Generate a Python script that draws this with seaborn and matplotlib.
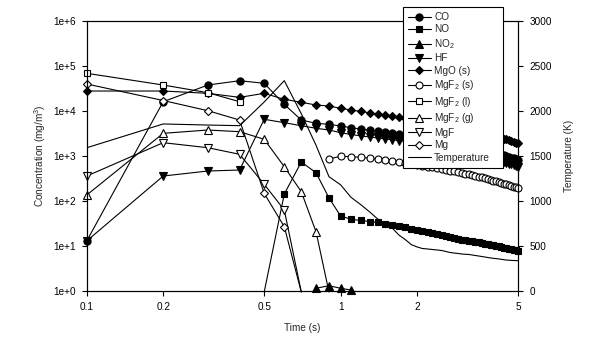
import numpy as np
import pandas as pd
import matplotlib
matplotlib.use("Agg")
import matplotlib.pyplot as plt
import seaborn as sns
from matplotlib.lines import Line2D
from matplotlib.ticker import NullLocator

nan = np.nan

times = [0.1, 0.2, 0.3, 0.4, 0.5, 0.6, 0.7, 0.8, 0.9, 1.0,
         1.1, 1.2, 1.3, 1.4, 1.5, 1.6, 1.7, 1.8, 1.9, 2.0,
         2.1, 2.2, 2.3, 2.4, 2.5, 2.6, 2.7, 2.8, 2.9, 3.0,
         3.1, 3.2, 3.3, 3.4, 3.5, 3.6, 3.7, 3.8, 3.9, 4.0,
         4.1, 4.2, 4.3, 4.4, 4.5, 4.6, 4.7, 4.8, 4.9, 5.0]

co = [13, 16100, 37800, 47100, 41300, 14000, 6310, 5330, 5060, 4640,
      4250, 3980, 3720, 3540, 3360, 3210, 3070, 2930, 2780, 2640,
      2540, 2440, 2350, 2260, 2170, 2090, 2010, 1930, 1860, 1790,
      1720, 1650, 1590, 1530, 1470, 1410, 1360, 1310, 1260, 1210,
      1160, 1120, 1075, 1035, 995, 955, 920, 885, 850, 815]

no = [nan, nan, nan, nan, 0.95, 143, 736, 425, 117, 46.4,
      39.2, 36.9, 35.0, 33.3, 31.6, 29.7, 27.8, 26.0, 24.4, 22.7,
      21.6, 20.6, 19.6, 18.7, 17.8, 16.9, 16.1, 15.4, 14.6, 13.9,
      13.5, 13.1, 12.7, 12.4, 12.0, 11.7, 11.3, 11.0, 10.7, 10.4,
      10.1, 9.8, 9.5, 9.2, 8.95, 8.7, 8.45, 8.2, 7.95, 7.7]

no2 = [nan, nan, nan, nan, nan, nan, nan, 1.15, 1.31, 1.15,
       1.05] + [nan] * 39

hf = [13, 359, 464, 488, 6540, 5500, 4710, 4130, 3780, 3300,
      3000, 2810, 2640, 2510, 2390, 2290, 2200, 2110, 2030, 1950,
      1870, 1800, 1730, 1660, 1590, 1530, 1470, 1410, 1355, 1300,
      1250, 1200, 1150, 1105, 1060, 1020, 980, 940, 905, 870,
      835, 800, 770, 740, 710, 680, 655, 630, 605, 580]

mgo = [27800, 27800, 24700, 20100, 24700, 18200, 15600, 13600, 12900, 11480,
       10520, 9750, 9120, 8580, 8070, 7620, 7240, 6880, 6610, 6350,
       6100, 5860, 5630, 5410, 5200, 5000, 4800, 4610, 4430, 4260,
       4090, 3930, 3780, 3630, 3490, 3350, 3220, 3090, 2970, 2860,
       2740, 2640, 2530, 2430, 2340, 2250, 2160, 2070, 1990, 1915]

mgf2_s = [nan, nan, nan, nan, nan, nan, nan, nan, 858, 985,
          965, 936, 894, 849, 807, 766, 728, 692, 658, 625,
          601, 578, 556, 534, 514, 494, 475, 456, 439, 422,
          405, 390, 375, 360, 346, 333, 320, 308, 296, 285,
          274, 263, 253, 243, 234, 225, 216, 208, 200, 192]

mgf2_l = [68800, 37800, 25500, 16100] + [nan] * 46

mgf2_g = [136, 3190, 3780, 3470, 2350, 578, 161, 20.8, 0.95] + [nan] * 41

mgf = [359, 1976, 1528, 1091, 235, 63, 0.95] + [nan] * 43

mg = [39800, 17100, 10150, 6300, 148, 26.8, 0.95] + [nan] * 43

temperature = [1592, 1856, 1844, 1837, 2100, 2337, 1970, 1620, 1270, 1180,
               1040, 960, 880, 800, 750, 697, 620, 570, 515, 490,
               472, 467, 461, 456, 450, 439, 428, 422, 417, 411,
               408, 406, 400, 394, 389, 383, 378, 372, 367, 363,
               360, 356, 352, 348, 344, 342, 340, 339, 338, 337]

labels = ["CO", "NO", "NO$_2$", "HF", "MgO (s)", "MgF$_2$ (s)",
          "MgF$_2$ (l)", "MgF$_2$ (g)", "MgF", "Mg", "Temperature"]

conc_ticks = [1e0, 1e1, 1e2, 1e3, 1e4, 1e5, 1e6]
conc_ticklabels = ["1e+0", "1e+1", "1e+2", "1e+3", "1e+4", "1e+5", "1e+6"]
time_ticks = [0.1, 0.2, 0.5, 1, 2, 5]
time_ticklabels = ["0.1", "0.2", "0.5", "1", "2", "5"]
temp_ticks = [0, 500, 1000, 1500, 2000, 2500, 3000]

sns.set_style("ticks")
plt.rcParams["font.family"] = ["Liberation Sans", "DejaVu Sans"]
plt.rcParams["mathtext.fontset"] = "custom"
plt.rcParams["mathtext.rm"] = "Liberation Sans"
plt.rcParams["mathtext.it"] = "Liberation Sans:italic"
plt.rcParams["mathtext.bf"] = "Liberation Sans:bold"

FS = 7.2
LW = 0.8

fig = plt.figure(figsize=(5.99, 3.39), dpi=100)
L, R, T, B = 86.8, 518.0, 21.0, 291.0
ax = fig.add_axes([L / 599, 1 - B / 339, (R - L) / 599, (B - T) / 339])
ax.set_xscale("log")
ax.set_yscale("log")
ax.set_xlim(0.1, 5)
ax.set_ylim(1, 1e6)

specs = [
    (co, "o", True, 5.2),
    (no, "s", True, 4.8),
    (no2, "^", True, 5.2),
    (hf, "v", True, 5.2),
    (mgo, "D", True, 4.4),
    (mgf2_s, "o", False, 5.0),
    (mgf2_l, "s", False, 4.8),
    (mgf2_g, "^", False, 5.2),
    (mgf, "v", False, 5.2),
    (mg, "D", False, 4.4),
]

handles = []
for (vals, mk, filled, ms), lab in zip(specs, labels[:-1]):
    df = pd.DataFrame({"t": times, "v": vals}).dropna()
    fc = "black" if filled else "white"
    sns.lineplot(data=df, x="t", y="v", ax=ax, color="black", linewidth=LW,
                 marker=mk, markersize=ms, markerfacecolor=fc,
                 markeredgecolor="black", markeredgewidth=LW,
                 markevery=list(df["v"] >= 1), clip_on=False,
                 estimator=None, sort=False, errorbar=None, legend=False)
    handles.append(Line2D([], [], color="black", linewidth=LW, marker=mk,
                          markersize=ms, markerfacecolor=fc,
                          markeredgecolor="black", markeredgewidth=LW))

ax2 = ax.twinx()
tdf = pd.DataFrame({"t": times, "T": temperature})
sns.lineplot(data=tdf, x="t", y="T", ax=ax2, color="black", linewidth=LW,
             estimator=None, sort=False, errorbar=None, legend=False)
handles.append(Line2D([], [], color="black", linewidth=LW))
ax2.set_ylim(0, 3000)
ax2.set_yticks(temp_ticks)
ax2.set_yticklabels([str(v) for v in temp_ticks])

ax.set_yticks(conc_ticks)
ax.set_yticklabels(conc_ticklabels)
ax.set_xticks(time_ticks)
ax.set_xticklabels(time_ticklabels)
ax.xaxis.set_minor_locator(NullLocator())
ax.yaxis.set_minor_locator(NullLocator())
ax2.xaxis.set_minor_locator(NullLocator())
ax2.yaxis.set_minor_locator(NullLocator())
ax.set_xlim(0.1, 5)

for a in (ax, ax2):
    for s in a.spines.values():
        s.set_visible(True)
        s.set_linewidth(LW)
        s.set_color("black")
    a.tick_params(direction="out", length=3.6, width=LW, pad=4.5,
                  labelsize=FS, colors="black")

ax.tick_params(axis="y", right=False)
ax2.tick_params(axis="y", left=False, right=True)

ax.set_xlabel("Time (s)", fontsize=FS, labelpad=8)
ax.set_ylabel("Concentration (mg/m$^3$)", fontsize=FS, labelpad=3.5)
ax2.set_ylabel("Temperature (K)", fontsize=FS, labelpad=9)

leg_l, leg_t, leg_r, leg_b = 402.7, 7.0, 503.3, 169.0
leg = fig.legend(handles, labels, loc="upper left", mode="expand",
                 bbox_to_anchor=(leg_l / 599, 1 - leg_b / 339,
                                 (leg_r - leg_l) / 599, (leg_b - leg_t) / 339),
                 borderaxespad=0,
                 frameon=True, fancybox=False, edgecolor="black", framealpha=1,
                 fontsize=FS, handlelength=2.3, handletextpad=0.35,
                 labelspacing=0.25, borderpad=0.5)
leg.get_frame().set_linewidth(LW)

fig.savefig("out.png", dpi=100)
